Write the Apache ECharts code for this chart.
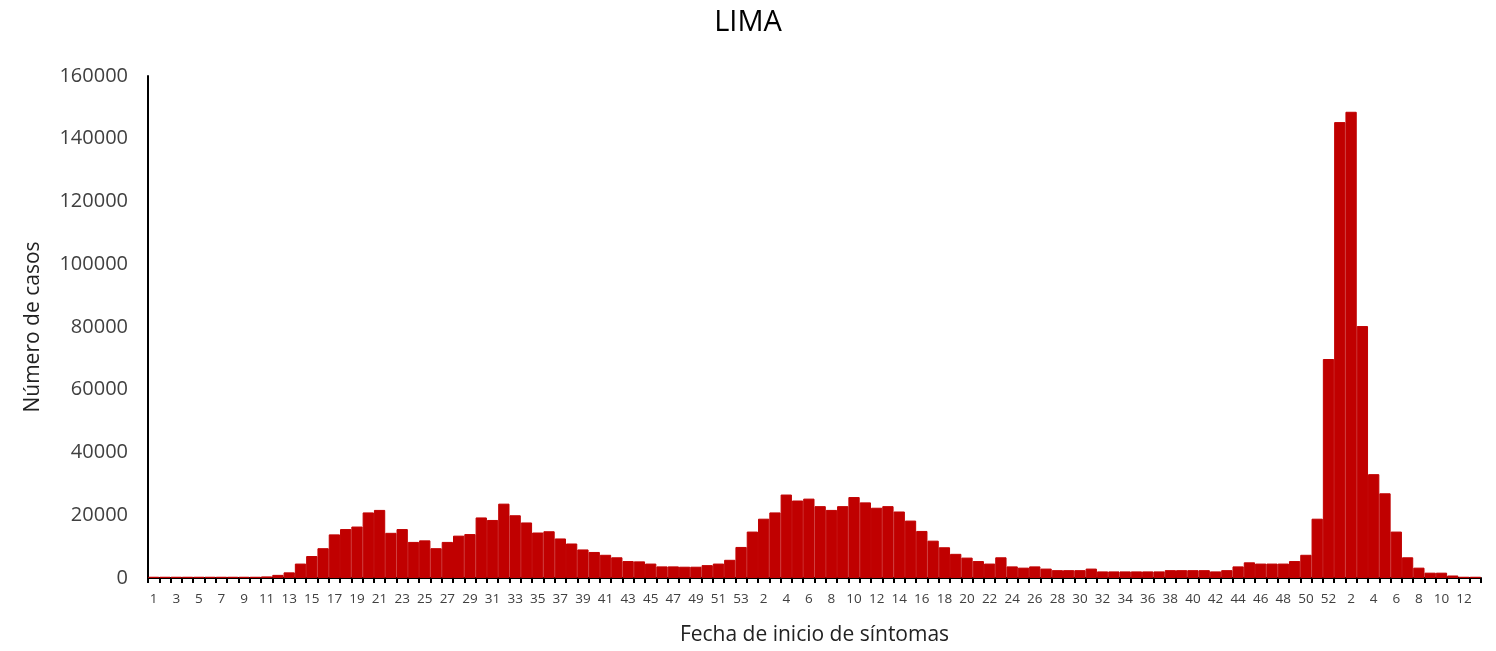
<!DOCTYPE html>
<html>
<head>
<meta charset="utf-8">
<script src="https://cdn.jsdelivr.net/npm/echarts@6/dist/echarts.min.js"></script>
<style>
html,body{margin:0;padding:0;background:#fff;}
#chart{width:1496px;height:651px;}
</style>
</head>
<body>
<div id="chart"></div>
<script>
const TITLE = "LIMA";
const Y_NAME = "Número de casos";
const X_NAME = "Fecha de inicio de síntomas";

// Semana epidemiológica labels (2020: 1-53, 2021: 1-52, 2022: 1-13)
const weeks2020 = ["1","2","3","4","5","6","7","8","9","10","11","12","13","14","15","16","17","18","19","20","21","22","23","24","25","26","27","28","29","30","31","32","33","34","35","36","37","38","39","40","41","42","43","44","45","46","47","48","49","50","51","52","53"];
const weeks2021 = ["1","2","3","4","5","6","7","8","9","10","11","12","13","14","15","16","17","18","19","20","21","22","23","24","25","26","27","28","29","30","31","32","33","34","35","36","37","38","39","40","41","42","43","44","45","46","47","48","49","50","51","52"];
const weeks2022 = ["1","2","3","4","5","6","7","8","9","10","11","12","13"];

const cases2020 = [400,400,400,400,400,400,400,400,400,400,500,1000,1800,4600,7000,9500,13900,15600,16400,20900,21700,14400,15600,11500,12000,9500,11500,13500,14000,19300,18500,23700,20000,17700,14500,14900,12600,11000,9100,8300,7400,6600,5400,5300,4600,3700,3700,3600,3600,4100,4600,5800,9900];
const cases2021 = [14800,18900,20900,26600,24700,25300,22900,21700,22900,25800,24100,22400,22900,21200,18300,15000,11900,9800,7700,6500,5400,4600,6600,3700,3300,3700,3000,2500,2500,2500,3000,2100,2100,2100,2100,2100,2100,2500,2500,2500,2500,2100,2500,3700,5000,4600,4600,4600,5400,7400,18900,69800];
const cases2022 = [145300,148600,80300,33100,27000,14800,6600,3300,1700,1700,800,400,400];

const yTicks = [0,20000,40000,60000,80000,100000,120000,140000,160000];

const categories = weeks2020.concat(weeks2021, weeks2022);
const values = cases2020.concat(cases2021, cases2022);

const FONT = "Open Sans";
const chart = echarts.init(document.getElementById('chart'), null, {renderer:'canvas'});
chart.setOption({
  animation:false,
  backgroundColor:'#ffffff',
  title:{
    text:TITLE, left:'center', top:3,
    textStyle:{fontFamily:FONT, fontSize:29, fontWeight:'normal', color:'#000000'}
  },
  grid:{left:148, right:15, top:76, bottom:72, containLabel:false},
  xAxis:{
    type:'category',
    data:categories,
    boundaryGap:true,
    name:X_NAME, nameLocation:'middle', nameGap:47,
    nameTextStyle:{fontFamily:FONT, fontSize:21, color:'#222222'},
    axisLine:{show:true, lineStyle:{color:'#000000', width:2}},
    axisTick:{show:true, interval:0, alignWithLabel:false, length:5, lineStyle:{color:'#000000', width:2}},
    axisLabel:{interval:1, margin:14, fontFamily:FONT, fontSize:13.5, color:'#404040'},
    splitLine:{show:false}
  },
  yAxis:{
    type:'value',
    min:yTicks[0], max:yTicks[yTicks.length-1], interval:yTicks[1]-yTicks[0],
    name:Y_NAME, nameLocation:'middle', nameGap:104,
    nameTextStyle:{fontFamily:FONT, fontSize:21, color:'#222222'},
    axisLine:{show:true, lineStyle:{color:'#000000', width:2}},
    axisTick:{show:false},
    axisLabel:{margin:20, fontFamily:FONT, fontSize:20, color:'#404040', formatter:function(v){return String(v);}},
    splitLine:{show:false}
  },
  series:[{
    type:'bar',
    data:values,
    barCategoryGap:'0%',
    itemStyle:{color:'#C00000', borderColor:'#C00000', borderWidth:1}
  }]
});
</script>
</body>
</html>
